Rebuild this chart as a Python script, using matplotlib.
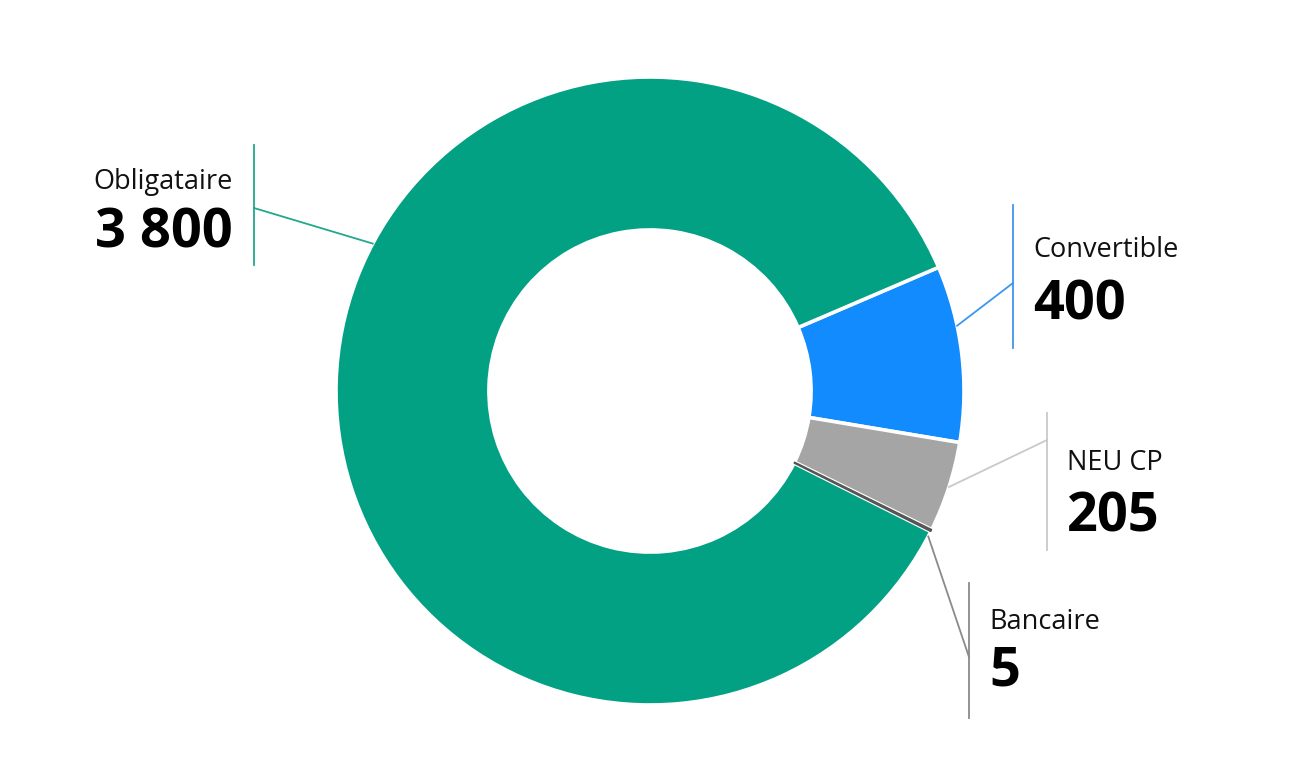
import numpy as np
import matplotlib.pyplot as plt

labels = ["Convertible", "NEU CP", "Bancaire", "Obligataire"]
values = [400, 205, 5, 3800]
value_text = ["400", "205", "5", "3 800"]
colors = ["#118bfd", "#a5a5a5", "#555555", "#03a184"]
line_colors = ["#3b97f0", "#c9c9c9", "#8a8a8a", "#22a88c"]

W, H = 1300, 783
cx, cy, R = 650, H - 391, 314

fig = plt.figure(figsize=(13, 7.83), dpi=100)
ax = fig.add_axes([0, 0, 1, 1])

wedges, _ = ax.pie(values, colors=colors, startangle=23.2, counterclock=False,
                   center=(cx, cy), radius=R,
                   wedgeprops=dict(width=R * 0.487, edgecolor="white", linewidth=2.6))

# the tiny Bancaire slice would vanish under the white borders
w = wedges[labels.index("Bancaire")]
w.set_edgecolor(colors[labels.index("Bancaire")])
w.set_linewidth(0.9)
w.set_zorder(5)

# pie resets the limits, so set them afterwards
ax.set_xlim(0, W)
ax.set_ylim(0, H)
ax.set_aspect("equal")
ax.axis("off")

# label layout: anchor angle on the ring, vertical bar x, bar top/bottom, joint y,
# label y, value y, text side
layout = {
    "Obligataire": dict(ang=152, bx=254, y0=145, y1=265, jy=208, ly=182, vy=234, side="left"),
    "Convertible": dict(ang=12, bx=1013, y0=205, y1=348, jy=283, ly=250, vy=305, side="right"),
    "NEU CP": dict(ang=-17.8, bx=1047, y0=413, y1=550, jy=440, ly=463, vy=517, side="right"),
    "Bancaire": dict(ang=-27.6, bx=969, y0=583, y1=718, jy=657, ly=622, vy=672, side="right"),
}

fam = ["Open Sans", "DejaVu Sans"]
for lab, val, lc in zip(labels, value_text, line_colors):
    L = layout[lab]
    a = np.deg2rad(L["ang"])
    px, py = cx + R * np.cos(a), cy + R * np.sin(a)
    ax.plot([L["bx"], L["bx"]], [H - L["y0"], H - L["y1"]], color=lc, lw=1.3)
    ax.plot([px, L["bx"]], [py, H - L["jy"]], color=lc, lw=1.3)
    if L["side"] == "left":
        tx, ha = L["bx"] - 21, "right"
    else:
        tx, ha = L["bx"] + 20, "left"
    ax.text(tx, H - L["ly"], lab, ha=ha, va="center", fontsize=19.5,
            family=fam, color="#111111")
    ax.text(tx, H - L["vy"], val, ha=ha, va="center", fontsize=39,
            family=fam, fontweight="bold", color="#000000")

fig.savefig("out.png", dpi=100, facecolor="white")
